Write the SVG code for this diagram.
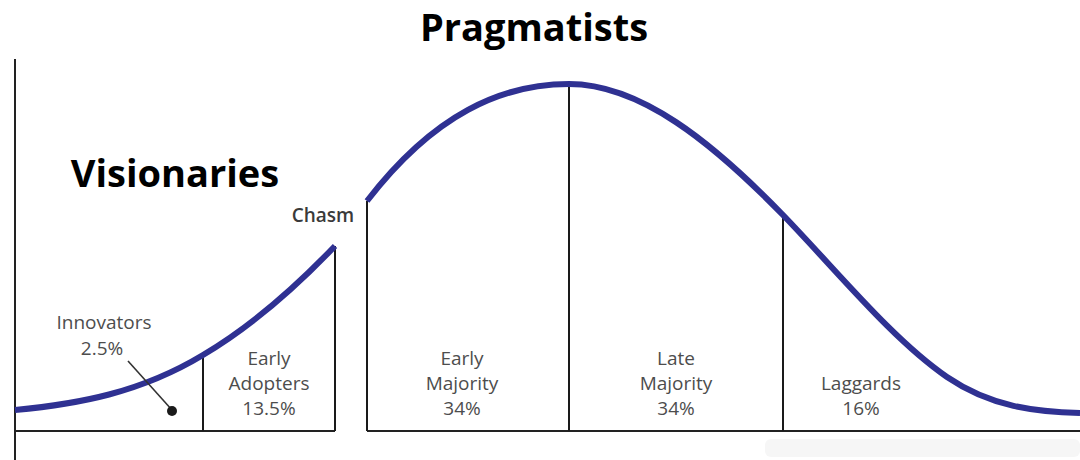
<svg xmlns="http://www.w3.org/2000/svg" width="1080" height="460" viewBox="0 0 1080 460">
<style>
.axis{stroke:#222;stroke-width:2;fill:none}
.div{stroke:#1a1a1a;stroke-width:2;fill:none}
.curve{stroke:#2f3192;stroke-width:6;fill:none;stroke-linejoin:round;stroke-linecap:butt}
.lbl{font-family:"Open Sans","Liberation Sans",sans-serif;font-size:19px;fill:#4d4d4d;text-anchor:middle}
.big{font-family:"Open Sans","Liberation Sans",sans-serif;font-weight:bold;fill:#000;font-size:38px;text-anchor:middle}
</style>
<rect width="1080" height="460" fill="#fff"/>
<rect x="765" y="439" width="315" height="18" rx="6" fill="#f6f6f6"/>
<g id="connectors">
  <line class="axis" x1="15" y1="59" x2="15" y2="460"/>
  <line class="axis" x1="15" y1="431" x2="335" y2="431"/>
  <line class="axis" x1="367" y1="431" x2="1080" y2="431"/>
  <line class="div" x1="203" y1="355" x2="203" y2="431"/>
  <line class="div" x1="335" y1="246" x2="335" y2="431"/>
  <line class="div" x1="367" y1="201" x2="367" y2="431"/>
  <line class="div" x1="569" y1="84" x2="569" y2="431"/>
  <line class="div" x1="783" y1="215" x2="783" y2="431"/>
  <path class="curve" d="M15,410 C78,404 140,393 203,355 C247,329 291,292 335,246"/>
  <path class="curve" d="M367,201 C434,114 502,84 569,84 C640,84 712,142 783,215 C838,272 892,339 947,377 C991,407 1036,412 1080,413"/>
  <line x1="128" y1="361" x2="172" y2="410" stroke="#333" stroke-width="1.6"/>
  <circle cx="172" cy="411" r="5" fill="#1a1a1a"/>
</g>
<g id="title-pragmatists"><text class="big" x="534" y="41">Pragmatists</text></g>
<g id="title-visionaries"><text class="big" x="175" y="187">Visionaries</text></g>
<g id="chasm"><text class="lbl" x="323" y="222" font-weight="600" style="fill:#3a3a3a">Chasm</text></g>
<g id="innovators"><text class="lbl" x="104" y="329">Innovators</text><text class="lbl" x="102" y="355">2.5%</text></g>
<g id="early-adopters"><text class="lbl" x="269" y="365">Early</text><text class="lbl" x="269" y="390">Adopters</text><text class="lbl" x="269" y="415">13.5%</text></g>
<g id="early-majority"><text class="lbl" x="462" y="365">Early</text><text class="lbl" x="462" y="390">Majority</text><text class="lbl" x="462" y="415">34%</text></g>
<g id="late-majority"><text class="lbl" x="676" y="365">Late</text><text class="lbl" x="676" y="390">Majority</text><text class="lbl" x="676" y="415">34%</text></g>
<g id="laggards"><text class="lbl" x="861" y="390">Laggards</text><text class="lbl" x="861" y="415">16%</text></g>
</svg>
